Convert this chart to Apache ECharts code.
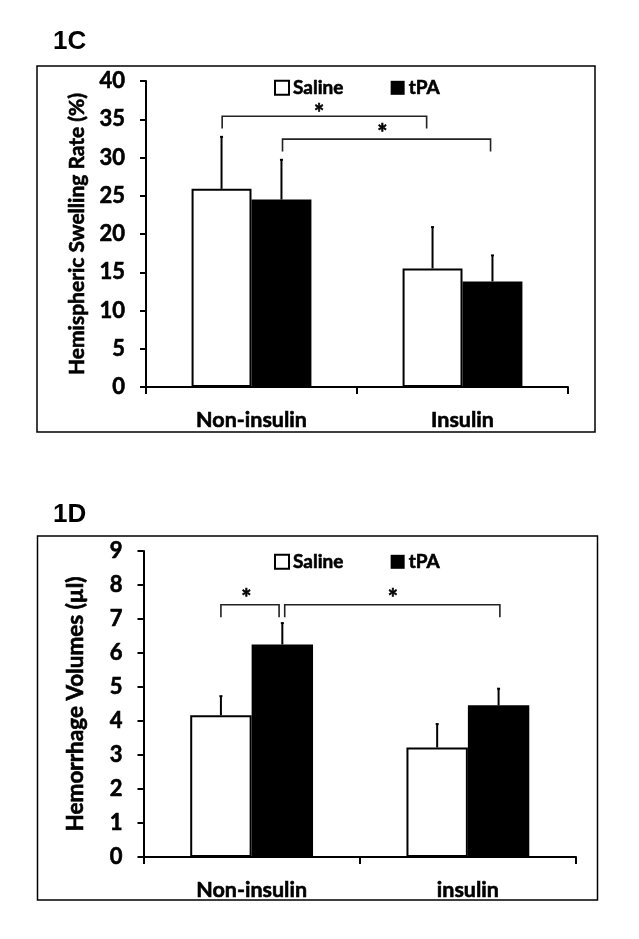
<!DOCTYPE html>
<html>
<head>
<meta charset="utf-8">
<script src="https://cdn.jsdelivr.net/npm/echarts@6/dist/echarts.min.js"></script>
<style>
html,body{margin:0;padding:0;background:#fff;}
#chart{width:639px;height:939px;}
</style>
</head>
<body>
<div id="chart"></div>
<script>
// ---- Data ----
const seriesNames = ['Saline', 'tPA'];
const categoriesC = ['Non-insulin', 'Insulin'];
const categoriesD = ['Non-insulin', 'insulin'];
const yTicksC = {min: 0, max: 40, interval: 5};
const yTicksD = {min: 0, max: 9, interval: 1};

// Panel 1C: Hemispheric swelling rate (%)
const swellSaline = [25.9, 15.5];
const swellSalineSD = [6.8, 5.4];
const swellTPA = [24.5, 13.8];
const swellTPASD = [5.2, 3.4];
// significance brackets: [xStart, xEnd, yLine, yEnd, starX, starY] (x in category units 0..2)
const bracketsC = [
  [0.361, 1.33, 35.4, 33.8, 0.82, 36.3],
  [0.647, 1.633, 32.4, 30.8, 1.12, 33.7]
];

// Panel 1D: Hemorrhage volumes (µl)
const hemoSaline = [4.17, 3.22];
const hemoSalineSD = [0.56, 0.69];
const hemoTPA = [6.25, 4.46];
const hemoTPASD = [0.63, 0.49];
const bracketsD = [
  [0.358, 0.627, 7.42, 7.05, 0.476, 7.73],
  [0.653, 1.648, 7.42, 7.05, 1.153, 7.73]
];

// ---- Chart ----
const FONT = 'Lato, "Open Sans", sans-serif';
const chart = echarts.init(document.getElementById('chart'), null, {renderer: 'canvas'});
const BARW = 0.284;
const HEAVY = {textBorderColor: '#000', textBorderWidth: 0.6};

function errItem(cats, vals, sds) {
  return cats.map((c, i) => [i, vals[i], sds[i]]);
}
function errRender(offsetFrac) {
  return function (params, api) {
    const cat = api.value(0), val = api.value(1), sd = api.value(2);
    const base = api.coord([cat, val]);
    const top = api.coord([cat, val + sd]);
    const band = api.size([1, 0])[0];
    const x = base[0] + offsetFrac * band;
    return {
      type: 'group',
      children: [
        {type: 'line', shape: {x1: x, y1: base[1], x2: x, y2: top[1]}, style: {stroke: '#000', lineWidth: 2}},
        {type: 'line', shape: {x1: x - 1.5, y1: top[1], x2: x + 1.5, y2: top[1]}, style: {stroke: '#000', lineWidth: 2}}
      ]
    };
  };
}
function bracketRender(params, api) {
  const x1 = api.value(0), x2 = api.value(1), y = api.value(2), ye = api.value(3), sx = api.value(4), sy = api.value(5);
  const a = api.coord([x1, ye]), b = api.coord([x1, y]), c = api.coord([x2, y]), d = api.coord([x2, ye]);
  const s = api.coord([sx, sy]);
  return {
    type: 'group',
    children: [
      {type: 'polyline', shape: {points: [a, b, c, d]}, style: {stroke: '#222', lineWidth: 1.6, fill: null}},
      {type: 'text', x: s[0], y: s[1] + 5, style: {text: '*', font: 'bold 24px ' + FONT, fill: '#000', stroke: '#000', lineWidth: 0.6, align: 'center', verticalAlign: 'middle'}}
    ]
  };
}

function yAxisDef(gridIndex, ticks, name, nameGap, nameSize) {
  return {
    type: 'value', gridIndex, min: ticks.min, max: ticks.max, interval: ticks.interval,
    name, nameLocation: 'middle', nameRotate: 90, nameGap,
    nameTextStyle: Object.assign({fontFamily: FONT, fontWeight: 'bold', fontSize: nameSize, color: '#000'}, HEAVY),
    axisLine: {show: true, lineStyle: {color: '#000', width: 2}},
    axisTick: {show: true, length: 6, lineStyle: {color: '#000', width: 2}},
    axisLabel: Object.assign({fontFamily: FONT, fontWeight: 'bold', fontSize: 22, color: '#000', margin: 21}, HEAVY),
    splitLine: {show: false}
  };
}
function xAxisDef(gridIndex, cats) {
  return {
    type: 'category', gridIndex, data: cats,
    axisLine: {show: true, lineStyle: {color: '#000', width: 2}},
    axisTick: {show: true, length: 7, lineStyle: {color: '#000', width: 2}},
    axisLabel: Object.assign({fontFamily: FONT, fontWeight: 'bold', fontSize: 21.5, color: '#000', margin: 22}, HEAVY),
    splitLine: {show: false}
  };
}
function hiddenX(gridIndex) {
  return {type: 'value', gridIndex, min: 0, max: 2, show: false};
}
const salineStyle = {color: '#fff', borderColor: '#000', borderWidth: 2};
const tpaStyle = {color: '#000', borderColor: '#000', borderWidth: 0};
const legendText = Object.assign({fontFamily: FONT, fontWeight: 'bold', fontSize: 19, color: '#000', padding: [0, 0, 0, -1]}, HEAVY);

const option = {
  animation: false,
  backgroundColor: '#fff',
  title: [
    {text: '1C', left: 53, top: 29, padding: 0, textStyle: {fontFamily: '"Liberation Sans", Arial, sans-serif', fontWeight: 'bold', fontSize: 26, color: '#000'}},
    {text: '1D', left: 53, top: 502, padding: 0, textStyle: {fontFamily: '"Liberation Sans", Arial, sans-serif', fontWeight: 'bold', fontSize: 26, color: '#000'}}
  ],
  legend: [
    {data: seriesNames, left: 274, top: 78, padding: 0, itemWidth: 14, itemHeight: 14, itemGap: 47,
     icon: 'rect', textStyle: legendText},
    {data: seriesNames, left: 274, top: 552, padding: 0, itemWidth: 14, itemHeight: 14, itemGap: 47,
     icon: 'rect', textStyle: legendText}
  ],
  graphic: [
    {type: 'rect', shape: {x: 37, y: 66, width: 558, height: 366}, style: {fill: null, stroke: '#000', lineWidth: 1.5}, z: -1},
    {type: 'rect', shape: {x: 37.5, y: 536, width: 560, height: 364}, style: {fill: null, stroke: '#000', lineWidth: 1.5}, z: -1}
  ],
  grid: [
    {left: 146, width: 422, top: 81, height: 306},
    {left: 143.5, width: 432.5, top: 551, height: 306}
  ],
  xAxis: [xAxisDef(0, categoriesC), xAxisDef(1, categoriesD), hiddenX(0), hiddenX(1)],
  yAxis: [
    yAxisDef(0, yTicksC, 'Hemispheric Swelling Rate (%)', 58, 21),
    yAxisDef(1, yTicksD, 'Hemorrhage Volumes (µl)', 56, 22.5)
  ],
  series: [
    {name: 'Saline', type: 'bar', xAxisIndex: 0, yAxisIndex: 0, data: swellSaline, barWidth: (BARW * 100) + '%', barGap: '0%', itemStyle: salineStyle},
    {name: 'tPA', type: 'bar', xAxisIndex: 0, yAxisIndex: 0, data: swellTPA, barWidth: (BARW * 100) + '%', barGap: '0%', itemStyle: tpaStyle},
    {name: 'Saline', type: 'bar', xAxisIndex: 1, yAxisIndex: 1, data: hemoSaline, barWidth: (BARW * 100) + '%', barGap: '0%', itemStyle: salineStyle},
    {name: 'tPA', type: 'bar', xAxisIndex: 1, yAxisIndex: 1, data: hemoTPA, barWidth: (BARW * 100) + '%', barGap: '0%', itemStyle: tpaStyle},
    {type: 'custom', xAxisIndex: 0, yAxisIndex: 0, data: errItem(categoriesC, swellSaline, swellSalineSD), renderItem: errRender(-BARW / 2), z: 5},
    {type: 'custom', xAxisIndex: 0, yAxisIndex: 0, data: errItem(categoriesC, swellTPA, swellTPASD), renderItem: errRender(BARW / 2), z: 5},
    {type: 'custom', xAxisIndex: 1, yAxisIndex: 1, data: errItem(categoriesD, hemoSaline, hemoSalineSD), renderItem: errRender(-BARW / 2), z: 5},
    {type: 'custom', xAxisIndex: 1, yAxisIndex: 1, data: errItem(categoriesD, hemoTPA, hemoTPASD), renderItem: errRender(BARW / 2), z: 5},
    {type: 'custom', xAxisIndex: 2, yAxisIndex: 0, data: bracketsC, renderItem: bracketRender, clip: false, z: 6},
    {type: 'custom', xAxisIndex: 3, yAxisIndex: 1, data: bracketsD, renderItem: bracketRender, clip: false, z: 6}
  ]
};
chart.setOption(option);
</script>
</body>
</html>
